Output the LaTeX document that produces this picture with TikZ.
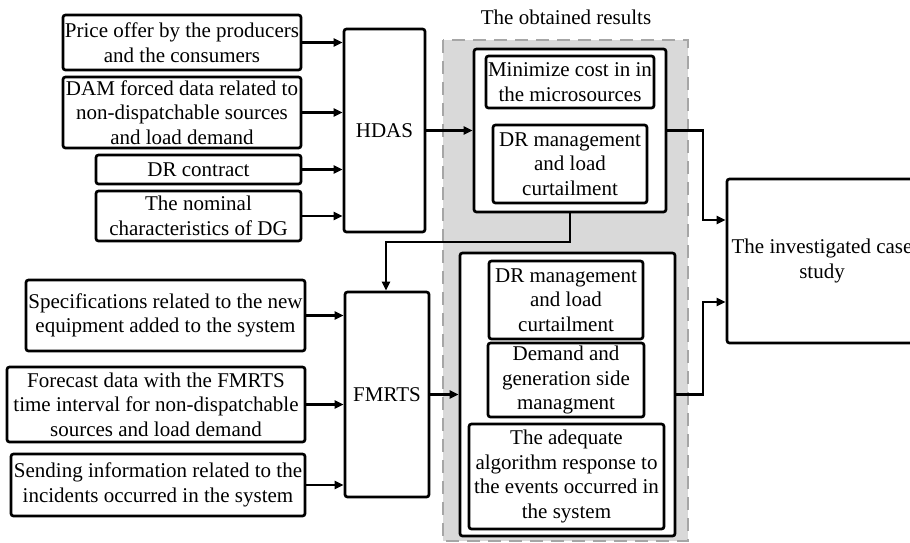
\documentclass[tikz,border=0pt]{standalone}
\usepackage{fontspec}
\setmainfont{Liberation Serif}
\usetikzlibrary{arrows.meta}
\definecolor{regiongray}{HTML}{D9D9D9}
\definecolor{dashgray}{HTML}{A6A6A6}
\tikzset{
  box/.style={draw=black, line width=2.7pt, rounded corners=2.5pt, fill=white,
    inner sep=0pt, align=center,
    font=\fontsize{21}{24.5}\selectfont},
  arr/.style={line width=2.3pt, -{Triangle[length=9pt,width=8pt]}},
  lbl/.style={inner sep=0pt, font=\fontsize{21}{24.5}\selectfont},
}
\begin{document}
\begin{tikzpicture}[x=1pt,y=-1pt]
\useasboundingbox (0,0) rectangle (910,542);
\clip (0,0) rectangle (910,542);
% shaded results region
\draw[fill=regiongray, draw=dashgray, line width=2.8pt, dash pattern=on 13pt off 8pt] (443,40) rectangle (688,541);
\node[lbl] (title) at (566,17) {The obtained results};

% left inputs (HDAS)
\node[box, minimum width=238pt, minimum height=55pt] (b1) at (182,42.5) {Price offer by the producers\\and the consumers};
\node[box, minimum width=238pt, minimum height=71pt] (b2) at (182,112.5) {DAM forced data related to\\non-dispatchable sources\\and load demand};
\node[box, minimum width=205pt, minimum height=29pt] (b3) at (198.5,169.5) {DR contract};
\node[box, minimum width=205pt, minimum height=50pt] (b4) at (198.5,216) {The nominal\\characteristics of DG};
\node[box, minimum width=81pt, minimum height=203pt] (hdas) at (384.5,130.5) {HDAS};

% left inputs (FMRTS)
\node[box, minimum width=279pt, minimum height=71pt] (spec) at (165.5,315.5) {Specifications related to the new\\equipment added to the system};
\node[box, minimum width=298pt, minimum height=75pt] (fore) at (156,404.5) {Forecast data with the FMRTS\\time interval for non-dispatchable\\sources and load demand};
\node[box, minimum width=294pt, minimum height=62pt] (send) at (158,485) {Sending information related to the\\incidents occurred in the system};
\node[box, minimum width=84pt, minimum height=205pt] (fmrts) at (387,394.5) {FMRTS};

% results 1
\node[box, minimum width=192pt, minimum height=163pt] (r1) at (570,130.5) {};
\node[box, minimum width=168pt, minimum height=52pt] (r1a) at (570,82) {Minimize cost in in\\the microsources};
\node[box, minimum width=154pt, minimum height=78pt] (r1b) at (570,164) {DR management\\and load\\curtailment};

% results 2
\node[box, minimum width=215pt, minimum height=283pt] (r2) at (567.5,394.5) {};
\node[box, minimum width=154pt, minimum height=78pt] (r2a) at (566,300) {DR management\\and load\\curtailment};
\node[box, minimum width=156pt, minimum height=74pt] (r2b) at (566,380) {Demand and\\generation side\\managment};
\node[box, minimum width=195pt, minimum height=105pt] (r2c) at (566.5,476.5) {The adequate\\algorithm response to\\the events occurred in\\the system};

% case study
\node[box, minimum width=190pt, minimum height=164pt] (case) at (822,261) {The investigated case\\study};

% connectors
\draw[arr] (b1.east) -- (b1.east -| hdas.west);
\draw[arr] (b2.east) -- (b2.east -| hdas.west);
\draw[arr] (b3.east) -- (b3.east -| hdas.west);
\draw[arr] (b4.east) -- (b4.east -| hdas.west);
\draw[arr] (hdas.east) -- (r1.west);

\draw[arr] (spec.east) -- (spec.east -| fmrts.west);
\draw[arr] (fore.east) -- (fore.east -| fmrts.west);
\draw[arr] (send.east) -- (send.east -| fmrts.west);
\draw[arr] (fmrts.east) -- (r2.west);

\coordinate (j1) at (703,220);
\coordinate (j2) at (386,242);
\coordinate (j3) at (703,302);
\draw[arr] (r1.east) -| (j1) -- (j1 -| case.west);
\draw[arr] (r1.south) |- (j2) -- (j2 |- fmrts.north);
\draw[arr] (r2.east) -| (j3) -- (j3 -| case.west);
\end{tikzpicture}
\end{document}
